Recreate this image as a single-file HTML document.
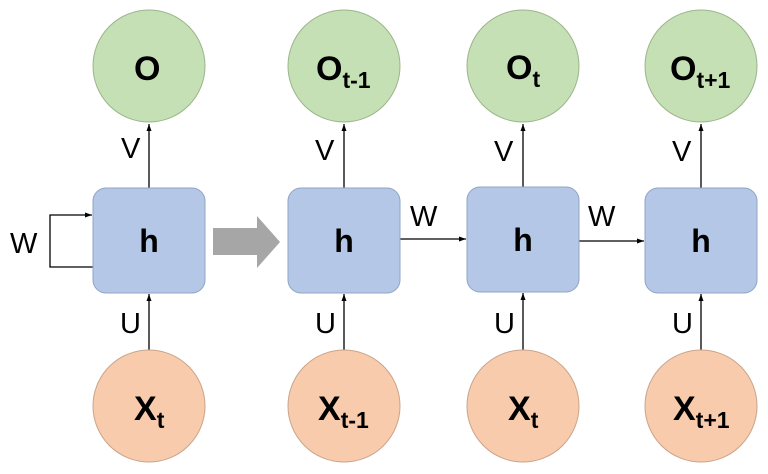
<!DOCTYPE html>
<html><head><meta charset="utf-8"><style>
body{margin:0;background:#fff}
svg text{font-family:"Liberation Sans",sans-serif}
</style></head><body>
<svg width="768" height="469" viewBox="0 0 768 469" xmlns="http://www.w3.org/2000/svg">
<defs><marker id="a" markerWidth="8" markerHeight="8" refX="7" refY="4" orient="auto" markerUnits="userSpaceOnUse"><path d="M0,1.5 L7,4 L0,6.5z" fill="#000"/></marker></defs>
<g stroke="#000" stroke-width="1.3" fill="none">
<line x1="149" y1="188" x2="149" y2="124" marker-end="url(#a)"/>
<line x1="344" y1="188" x2="344" y2="124" marker-end="url(#a)"/>
<line x1="523" y1="187" x2="523" y2="124" marker-end="url(#a)"/>
<line x1="701" y1="188" x2="701" y2="124" marker-end="url(#a)"/>
<line x1="149" y1="350" x2="149" y2="294" marker-end="url(#a)"/>
<line x1="344" y1="350" x2="344" y2="294" marker-end="url(#a)"/>
<line x1="523" y1="350" x2="523" y2="293" marker-end="url(#a)"/>
<line x1="701" y1="350" x2="701" y2="294" marker-end="url(#a)"/>
<line x1="400" y1="239" x2="466" y2="239" marker-end="url(#a)"/>
<line x1="579" y1="241" x2="644" y2="241" marker-end="url(#a)"/>
<polyline points="93,267 50,267 50,215 92,215" marker-end="url(#a)"/>
</g>
<path d="M213,228 L257,228 L257,216 L280,242 L257,268 L257,255 L213,255z" fill="#a6a6a6"/>
<g fill="#c5e0b4" stroke="#9bb58a" stroke-width="1">
<circle cx="149" cy="66" r="56"/><circle cx="344" cy="66" r="56"/><circle cx="523" cy="66" r="56"/><circle cx="701" cy="66" r="56"/>
</g>
<g fill="#f8cbad" stroke="#c9a48a" stroke-width="1">
<circle cx="149" cy="406" r="56"/><circle cx="344" cy="406" r="56"/><circle cx="523" cy="406" r="56"/><circle cx="701" cy="406" r="56"/>
</g>
<g fill="#b4c7e7" stroke="#8fa4c6" stroke-width="1">
<rect x="93" y="188" width="112" height="105" rx="13"/>
<rect x="288" y="188" width="112" height="105" rx="13"/>
<rect x="467" y="187" width="112" height="105" rx="13"/>
<rect x="645" y="188" width="112" height="105" rx="13"/>
</g>
<g font-weight="bold" font-size="32" fill="#000" text-anchor="middle">
<text x="149" y="252">h</text><text x="344" y="252">h</text><text x="523" y="251">h</text><text x="701" y="252">h</text>
</g>
<g font-weight="bold" font-size="34" fill="#000">
<text x="134" y="80">O</text>
<text x="316" y="80">O<tspan font-size="23" dy="8">t-1</tspan></text>
<text x="506" y="79">O<tspan font-size="23" dy="8">t</tspan></text>
<text x="670" y="80">O<tspan font-size="23" dy="8">t+1</tspan></text>
<text x="134" y="420">X<tspan font-size="23" dy="8">t</tspan></text>
<text x="318" y="420">X<tspan font-size="23" dy="8">t-1</tspan></text>
<text x="508" y="420">X<tspan font-size="23" dy="8">t</tspan></text>
<text x="673" y="420">X<tspan font-size="23" dy="8">t+1</tspan></text>
</g>
<g font-size="29" fill="#000">
<text x="121" y="158">V</text><text x="315" y="160">V</text><text x="494" y="161">V</text><text x="672" y="161">V</text>
<text x="120" y="333">U</text><text x="315" y="333">U</text><text x="494" y="333">U</text><text x="672" y="333">U</text>
<text x="10" y="253">W</text><text x="410" y="226">W</text><text x="588" y="226">W</text>
</g>
</svg>
</body></html>
